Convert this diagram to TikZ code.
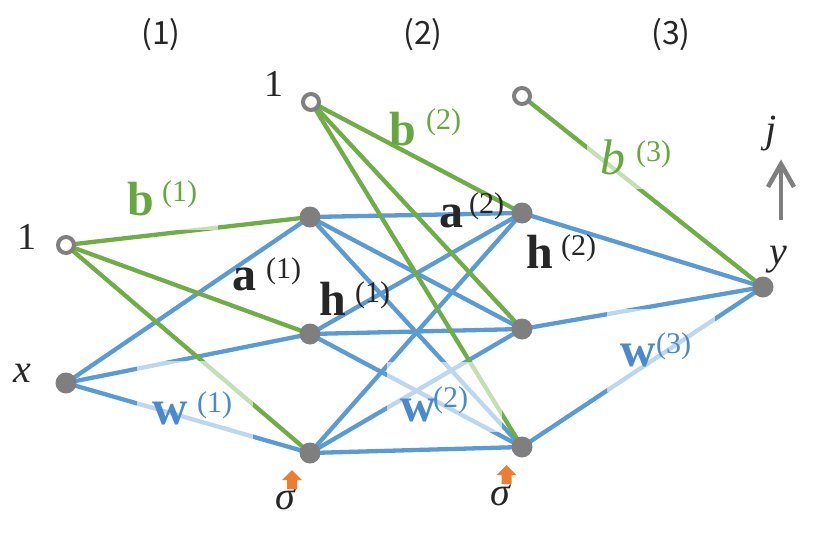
\documentclass[tikz,border=0pt]{standalone}
\usepackage{fontspec}
\setmainfont{Liberation Serif}
\newfontfamily\colfont{Noto Sans CJK JP}
\usetikzlibrary{arrows.meta}
\definecolor{netblue}{HTML}{5B9BD5}
\definecolor{netgreen}{HTML}{70AD47}
\definecolor{nodegray}{HTML}{7F7F7F}
\definecolor{sigorange}{HTML}{ED7D31}
\definecolor{wtext}{HTML}{4A89CC}
\definecolor{btext}{HTML}{66A83F}
\definecolor{ink}{HTML}{262626}
\pgfdeclarelayer{wires}
\pgfdeclarelayer{veils}
\pgfsetlayers{wires,veils,main}
\begin{document}
\begin{tikzpicture}[x=1pt,y=-1pt,
  unit/.style={circle, fill=nodegray, inner sep=0pt, minimum size=21pt},
  biasnode/.style={circle, draw=nodegray, fill=white, line width=4pt, inner sep=0pt, minimum size=16pt},
  wire/.style={line width=4.3pt, netblue},
  biaswire/.style={line width=4.3pt, netgreen},
  veil/.style={fill=white, fill opacity=0.6},
  txt/.style={inner sep=0pt, anchor=base west},
  sym/.style={txt, font=\fontsize{48}{48}\selectfont\bfseries},
  wsym/.style={txt, font=\fontsize{49}{49}\selectfont\bfseries, text=wtext},
  supr/.style={txt, font=\fontsize{30}{30}\selectfont},
  lbl/.style={txt, font=\fontsize{38}{38}\selectfont, text=ink},
  collbl/.style={inner sep=0pt, font=\colfont\fontsize{32}{32}\selectfont, text=ink},
  sigarrow/.style={fill=sigorange}
]
\useasboundingbox (0,0) rectangle (825,544);

% layer headings
\node[collbl] (c1) at (161,35) {(1)};
\node[collbl] (c2) at (423,35) {(2)};
\node[collbl] (c3) at (671,35) {(3)};

% bias inputs
\node[biasnode] (b1) at (66,245) {};
\node[biasnode] (b2) at (311,102) {};
\node[biasnode] (b3) at (522,96) {};
% input, hidden units, output
\node[unit] (x) at (66,383) {};
\node[unit] (ha) at (310,217) {};
\node[unit] (hb) at (310,334) {};
\node[unit] (hc) at (310,453) {};
\node[unit] (ka) at (522,213) {};
\node[unit] (kb) at (522,329) {};
\node[unit] (kc) at (522,447) {};
\node[unit] (y) at (763,287) {};

% weights
\begin{pgfonlayer}{wires}
  \foreach \t in {ha,hb,hc} \draw[wire] (x.center) -- (\t.center);
  \foreach \s in {ha,hb,hc} \foreach \t in {ka,kb,kc}
    \draw[wire] (\s.center) -- (\t.center);
  \foreach \s in {ka,kb,kc} \draw[wire] (\s.center) -- (y.center);
  % biases
  \foreach \t in {ha,hb,hc} \draw[biaswire] (b1.center) -- (\t.center);
  \foreach \t in {ka,kb,kc} \draw[biaswire] (b2.center) -- (\t.center);
  \draw[biaswire] (b3.center) -- (y.center);
\end{pgfonlayer}

% translucent label backgrounds
\begin{pgfonlayer}{veils}
  \fill[veil] (112,165) rectangle (218,230);
  \fill[veil] (137,361) rectangle (253,440);
  \fill[veil] (387,362) rectangle (502,432);
  \fill[veil] (607,309) rectangle (715,392);
  \fill[veil] (587,118) rectangle (690,189);
\end{pgfonlayer}

% node labels
\node[lbl] (one1) at (17,249) {1};
\node[lbl] (one2) at (264,96) {1};
\node[lbl, font=\fontsize{40}{40}\selectfont\itshape] (xl) at (13,382) {x};
\node[lbl, font=\fontsize{40}{40}\selectfont\itshape] (yl) at (769,264) {y};
\node[lbl, font=\fontsize{40}{40}\selectfont\itshape] (jl) at (765,142) {j};

% parameter and activation labels
\node[sym, text=btext] (lb1) at (127,215) {b};
\node[supr, text=btext] (lb1s) at (162,201) {(1)};
\node[sym, text=ink] (la1) at (232,290) {a};
\node[supr, text=ink] (la1s) at (266,278) {(1)};
\node[sym, text=ink] (lh1) at (319,315) {h};
\node[supr, text=ink] (lh1s) at (355,302) {(1)};
\node[wsym] (lw1) at (152,424) {w};
\node[supr, text=wtext] (lw1s) at (197,412) {(1)};

\node[sym, text=btext] (lb2) at (389,145) {b};
\node[supr, text=btext] (lb2s) at (426,129) {(2)};
\node[sym, text=ink] (la2) at (439,227) {a};
\node[supr, text=ink] (la2s) at (469,213) {(2)};
\node[sym, text=ink] (lh2) at (526,268) {h};
\node[supr, text=ink] (lh2s) at (561,255) {(2)};
\node[wsym] (lw2) at (400,421) {w};
\node[supr, text=wtext] (lw2s) at (433,407) {(2)};

\node[txt, font=\fontsize{50}{50}\selectfont\itshape, text=btext] (lb3) at (600,174) {b};
\node[supr, text=btext] (lb3s) at (636,161) {(3)};
\node[wsym] (lw3) at (620,366) {w};
\node[supr, text=wtext] (lw3s) at (656,353) {(3)};

% activation function markers
\node[lbl, font=\fontsize{40}{40}\selectfont\itshape] (sg1) at (275,509) {σ};
\node[lbl, font=\fontsize{40}{40}\selectfont\itshape] (sg2) at (490,505) {σ};
\fill[sigarrow] (292,470) -- (302,480) -- (297,480) -- (297,489) -- (287,489) -- (287,480) -- (282,480) -- cycle;
\fill[sigarrow] (506.5,465) -- (516.5,475) -- (511.5,475) -- (511.5,484) -- (501.5,484) -- (501.5,475) -- (496.5,475) -- cycle;

% index direction
\coordinate (jfoot) at (781,220);
\coordinate (jtip) at (781,164);
\draw[nodegray, line width=4.5pt] (jfoot) -- (jtip);
\draw[nodegray, line width=4.5pt, line join=miter]
  ([shift={(-13,23)}]jtip) -- (jtip) -- ([shift={(13,23)}]jtip);
\end{tikzpicture}
\end{document}
